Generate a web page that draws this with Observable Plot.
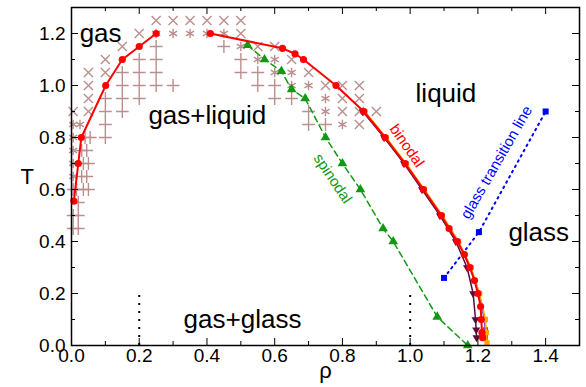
<!DOCTYPE html>
<html><head><meta charset="utf-8">
<script src="https://cdn.jsdelivr.net/npm/d3@7"></script>
<script src="https://cdn.jsdelivr.net/npm/@observablehq/plot@0.6"></script>
<style>body{margin:0;background:#fff}#chart svg{display:block}</style>
</head><body><div id="chart"></div>
<script>
// ---- data (rho, T) ----
const binodalGas = [[0.007,0.555],[0.02,0.70],[0.029,0.80],[0.101,1.0],[0.15,1.10],[0.20,1.15],[0.25,1.20]];
const binodalLiquid = [[0.41,1.20],[0.623,1.143],[0.66,1.122],[0.685,1.10],[0.781,1.0],[0.863,0.9],[0.926,0.8],[0.985,0.7],[1.039,0.6],[1.092,0.5],[1.115,0.45],[1.139,0.40],[1.16,0.35],[1.176,0.30],[1.19,0.25],[1.20,0.20],[1.208,0.15],[1.21,0.10],[1.212,0.05],[1.214,0.03]];
const orangeCurve = [[0.866,0.9],[0.929,0.8],[0.988,0.7],[1.042,0.6],[1.095,0.5],[1.143,0.40],[1.18,0.30],[1.205,0.20],[1.222,0.10],[1.225,0.05],[1.227,0.01]];
const purpleCurve = [[0.862,0.9],[0.926,0.8],[0.986,0.7],[1.040,0.6],[1.093,0.5],[1.141,0.40],[1.178,0.30],[1.203,0.20],[1.219,0.10],[1.222,0.06],[1.222,0.03]];
const maroonCurve = [[0.86,0.9],[0.923,0.8],[0.982,0.7],[1.035,0.6],[1.088,0.5],[1.135,0.40],[1.168,0.30],[1.186,0.20],[1.193,0.10],[1.195,0.06],[1.196,0.03]];
const spinodal = [[0.52,1.155],[0.57,1.10],[0.62,1.055],[0.65,0.985],[0.69,0.95],[0.75,0.80],[0.80,0.70],[0.853,0.60],[0.92,0.45],[0.95,0.40],[1.08,0.11],[1.17,0.0]];
const glassLine = [[1.10,0.26],[1.203,0.436],[1.40,0.90]];
const dottedRho = [0.2, 1.0];
const dottedTop = 0.2;

const timesPts = [
  [0.25,1.25],[0.30,1.25],[0.35,1.25],[0.40,1.25],[0.45,1.25],[0.50,1.25],
  [0.20,1.20],[0.50,1.20],
  [0.15,1.15],[0.55,1.15],[0.60,1.15],
  [0.10,1.10],[0.65,1.10],
  [0.05,1.05],[0.10,1.05],[0.70,1.05],
  [0.05,1.00],[0.75,1.00],[0.80,1.00],[0.85,1.00],
  [0.05,0.95],[0.80,0.95],[0.85,0.95],
  [0.005,0.90],[0.05,0.90],[0.80,0.90],[0.85,0.90],[0.90,0.90],
  [0.85,0.85]
];
const asteriskPts = [
  [0.25,1.20],[0.30,1.20],[0.35,1.20],[0.40,1.20],[0.45,1.20],
  [0.50,1.15],
  [0.55,1.10],[0.60,1.10],
  [0.60,1.05],[0.65,1.05],
  [0.65,1.00],[0.70,1.00],
  [0.75,0.95],[0.75,0.90],
  [0.80,0.85],[0.005,0.85],[0.025,0.85],
  [0.005,0.80],[0.005,0.75],[0.005,0.70],[0.005,0.65]
];
const plusPts = [
  [0.25,1.15],[0.45,1.15],
  [0.20,1.10],[0.25,1.10],[0.50,1.10],
  [0.15,1.05],[0.20,1.05],[0.25,1.05],[0.50,1.05],[0.55,1.05],
  [0.15,1.00],[0.20,1.00],[0.25,1.00],[0.30,1.00],[0.55,1.00],[0.60,1.00],
  [0.10,0.95],[0.15,0.95],[0.20,0.95],[0.60,0.95],[0.65,0.95],
  [0.10,0.90],[0.15,0.90],[0.70,0.90],
  [0.10,0.85],[0.70,0.85],[0.75,0.85],
  [0.04,0.80],[0.055,0.80],[0.10,0.80],
  [0.03,0.75],[0.045,0.75],
  [0.035,0.70],[0.05,0.70],
  [0.03,0.65],[0.045,0.65],
  [0.005,0.60],[0.015,0.60],[0.035,0.60],[0.05,0.60],
  [0.02,0.55],
  [0.005,0.50],[0.02,0.50],
  [0.005,0.45],[0.02,0.45]
];

const xMajor = [0,0.2,0.4,0.6,0.8,1.0,1.2,1.4];
const xMinor = [0.1,0.3,0.5,0.7,0.9,1.1,1.3];
const yMajor = [0,0.2,0.4,0.6,0.8,1.0,1.2];
const yMinor = [0.1,0.3,0.5,0.7,0.9,1.1,1.3];

const regionLabels = [
  {text:"gas", rho:0.024, T:1.20},
  {text:"gas+liquid", rho:0.227, T:0.885},
  {text:"liquid", rho:1.016, T:0.97},
  {text:"glass", rho:1.29, T:0.435},
  {text:"gas+glass", rho:0.331, T:0.10}
];
const curveLabels = [
  {text:"binodal", rho:0.99, T:0.768, angle:55, color:"#ff0000"},
  {text:"spinodal", rho:0.771, T:0.642, angle:56, color:"#119911"},
  {text:"glass transition line", rho:1.255, T:0.704, angle:-60, color:"#0000ff"}
];

// ---- chart ----
const W = 586, H = 387;
const mL = 71, mR = 7, mT = 7, mB = 42;
const xDom = [0, 1.5], yDom = [0, 1.3];
const pxX = (xDom[1]-xDom[0])/(W-mL-mR);
const pxY = (yDom[1]-yDom[0])/(H-mT-mB);
const font = "'Liberation Sans', Arial, sans-serif";

const toObj = (arr, extra={}) => arr.map(([rho,T]) => ({rho, T, ...extra}));
const gasData = toObj(binodalGas, {branch:"g"});
const liqData = toObj(binodalLiquid, {branch:"l"});

function ticks(vals, len, axis) {
  const marks = [];
  if (axis === "x") {
    marks.push(Plot.ruleX(vals, {x: d=>d, y1: yDom[0], y2: yDom[0]+len*pxY, stroke:"black", strokeWidth:1}));
    marks.push(Plot.ruleX(vals, {x: d=>d, y1: yDom[1], y2: yDom[1]-len*pxY, stroke:"black", strokeWidth:1}));
  } else {
    marks.push(Plot.ruleY(vals, {y: d=>d, x1: xDom[0], x2: xDom[0]+len*pxX, stroke:"black", strokeWidth:1}));
    marks.push(Plot.ruleY(vals, {y: d=>d, x1: xDom[1], x2: xDom[1]-len*pxX, stroke:"black", strokeWidth:1}));
  }
  return marks;
}

const markerColor = "#bc8f8f";
const chart = Plot.plot({
  width: W, height: H,
  marginLeft: mL, marginRight: mR, marginTop: mT, marginBottom: mB,
  x: {domain: xDom, axis: null},
  y: {domain: yDom, axis: null},
  style: {fontFamily: font, background: "white", color: "black"},
  marks: [
    // scatter state points
    Plot.dot(toObj(plusPts), {x:"rho", y:"T", symbol:"plus", r:4.2, stroke:markerColor, strokeWidth:1.4}),
    Plot.dot(toObj(timesPts), {x:"rho", y:"T", symbol:"times", r:4.2, stroke:markerColor, strokeWidth:1.4}),
    Plot.dot(toObj(asteriskPts), {x:"rho", y:"T", symbol:"asterisk", r:4.4, stroke:markerColor, strokeWidth:1.4}),
    // dotted verticals
    Plot.ruleX(dottedRho, {x: d=>d, y1: 0, y2: dottedTop, stroke:"black", strokeWidth:2, strokeDasharray:"2,6"}),
    // glass transition
    Plot.line(toObj(glassLine), {x:"rho", y:"T", stroke:"#0000ff", strokeWidth:2, strokeDasharray:"1.5,4.5"}),
    Plot.dot(toObj(glassLine), {x:"rho", y:"T", symbol:"square", r:3.4, fill:"#0000ff"}),
    // spinodal
    Plot.line(toObj(spinodal), {x:"rho", y:"T", stroke:"#119911", strokeWidth:1.5, strokeDasharray:"6,4"}),
    Plot.dot(toObj(spinodal), {x:"rho", y:"T", symbol:"triangle", r:3.6, fill:"#119911"}),
    // other binodal estimates
    Plot.line(toObj(maroonCurve), {x:"rho", y:"T", stroke:"#5c0a3c", strokeWidth:1.5}),
    Plot.dot(toObj(maroonCurve), {x:"rho", y:"T", symbol:"triangle", rotate:180, r:3.0, fill:"#5c0a3c"}),
    Plot.line(toObj(purpleCurve), {x:"rho", y:"T", stroke:"#8a3fc8", strokeWidth:1.5}),
    Plot.dot(toObj(purpleCurve), {x:"rho", y:"T", symbol:"square", r:3.0, fill:"#8a3fc8"}),
    Plot.line(toObj(orangeCurve), {x:"rho", y:"T", stroke:"#ffa500", strokeWidth:1.5}),
    Plot.dot(toObj(orangeCurve), {x:"rho", y:"T", symbol:"square", r:3.0, fill:"#ffa500"}),
    // main binodal
    Plot.line(gasData.concat(liqData), {x:"rho", y:"T", z:"branch", stroke:"#ff0000", strokeWidth:2}),
    Plot.dot(gasData.concat(liqData), {x:"rho", y:"T", r:3.6, fill:"#ff0000"}),
    // region labels
    Plot.text(regionLabels, {x:"rho", y:"T", text:"text", textAnchor:"start", fontSize:26, fill:"black"}),
    Plot.text(curveLabels, {x:"rho", y:"T", text:"text", rotate:"angle", fill:"color", fontSize:15}),
    // ticks
    ...ticks(xMajor, 7, "x"), ...ticks(xMinor, 4, "x"),
    ...ticks(yMajor, 7, "y"), ...ticks(yMinor, 4, "y"),
    // tick labels
    Plot.axisX({ticks: xMajor, tickSize: 0, tickPadding: 3, tickFormat: d3.format(".1f"), fontSize: 19, label: null, fill: "black"}),
    Plot.axisY({ticks: yMajor, tickSize: 0, tickPadding: 6, tickFormat: d3.format(".1f"), fontSize: 19, label: null, fill: "black"}),
    Plot.frame({stroke:"black", strokeWidth:1.5}),
    // axis titles
    Plot.text(["ρ"], {frameAnchor:"bottom", dy: 32, fontSize: 22, fill:"black"}),
    Plot.text(["T"], {frameAnchor:"left", dx: -51, fontSize: 22, fill:"black"})
  ]
});
document.getElementById("chart").appendChild(chart);
</script>
</body></html>
